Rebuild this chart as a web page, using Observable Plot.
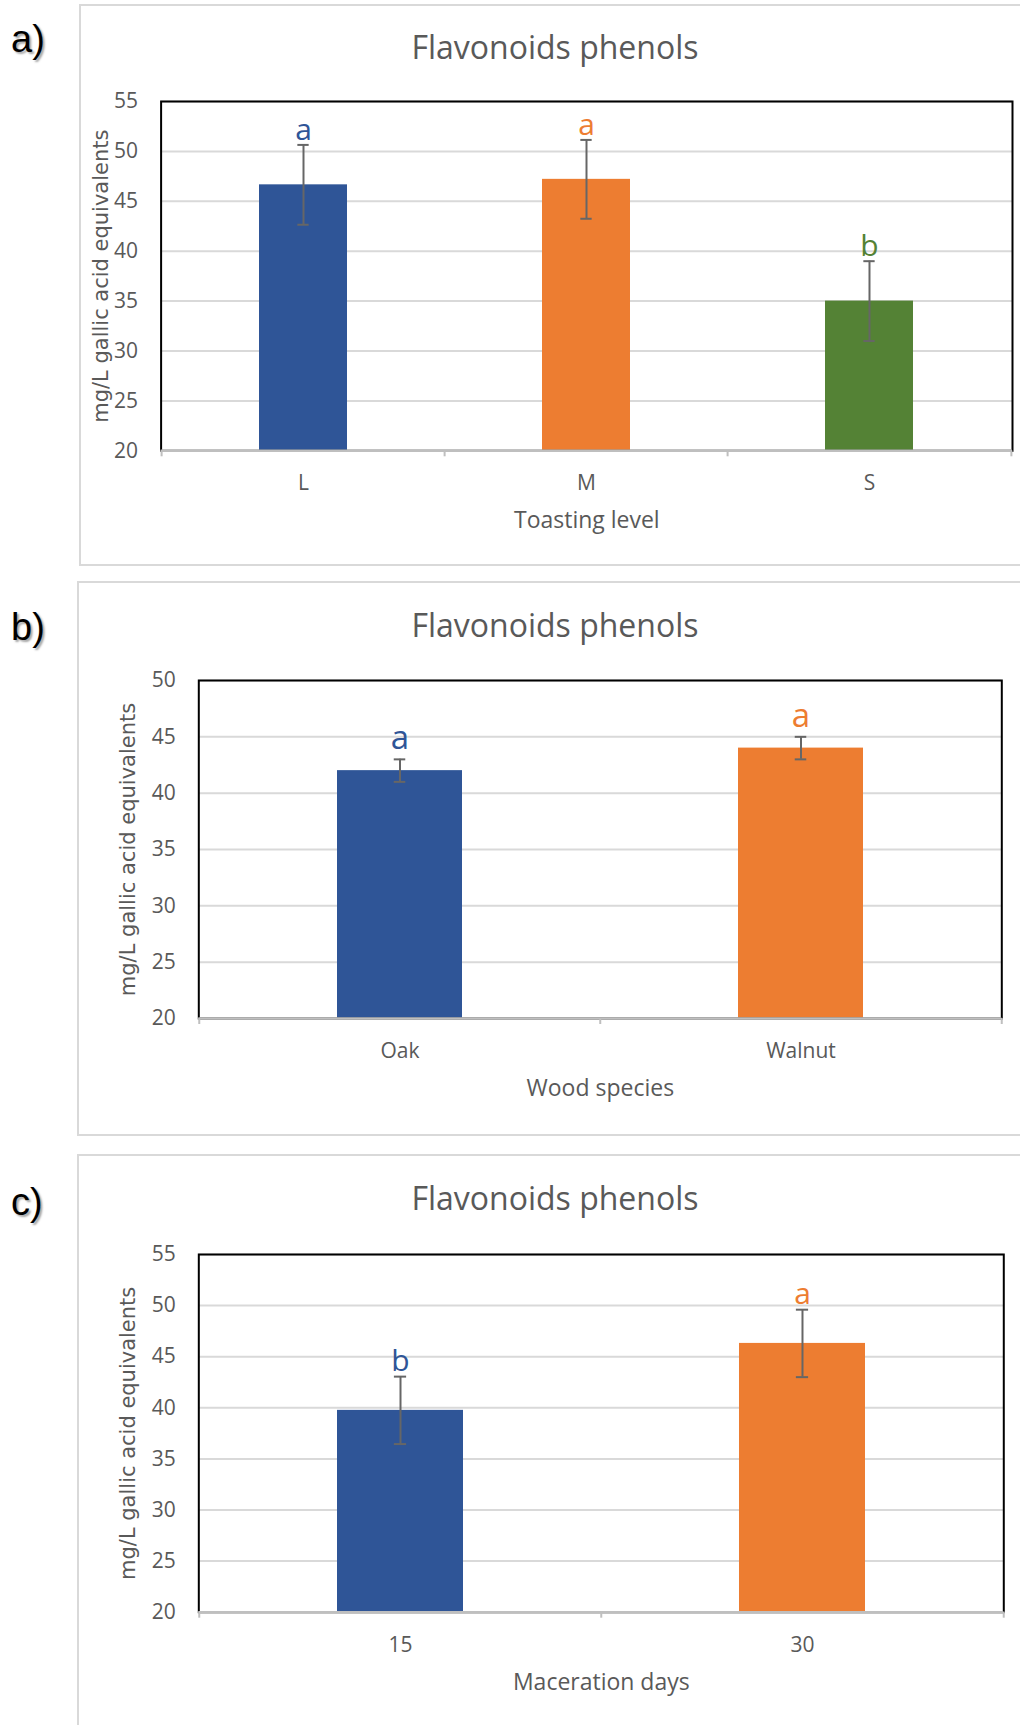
<!DOCTYPE html>
<html>
<head>
<meta charset="utf-8">
<script src="https://cdn.jsdelivr.net/npm/d3@7"></script>
<script src="https://cdn.jsdelivr.net/npm/@observablehq/plot@0.6"></script>
<style>
  html, body { margin: 0; padding: 0; background: #fff; }
  #page { position: relative; width: 1020px; height: 1725px; overflow: hidden; font-family: "Open Sans", sans-serif; }
  .box { position: absolute; border: 2px solid #d9d9d9; box-sizing: border-box; background: #fff; }
  .title { position: absolute; left: 0; width: 1110px; text-align: center; font-family: "Open Sans", sans-serif; font-size: 32px; line-height: 1; color: #595959; white-space: nowrap; }
  .tag { position: absolute; left: 11px; font-family: "Liberation Sans", Arial, sans-serif; font-size: 38px; line-height: 1; color: #000; text-shadow: 2px 2px 2px rgba(0,0,0,0.35); }
  .chart { position: absolute; left: 0; }
</style>
</head>
<body>
<div id="page"></div>
<script>
// ---------------- data ----------------
const chartTitle = "Flavonoids phenols";
const yLabel = "mg/L gallic acid equivalents";
const barColors = ["#2F5597", "#ED7D31", "#548235"];

// a) Toasting level
const toastCats = ["L", "M", "S"];
const toastMeans = [46.65, 47.2, 35.0];
const toastSD = [4.0, 3.95, 4.0];
const toastLetters = ["a", "a", "b"];
const toastTicks = [20, 25, 30, 35, 40, 45, 50, 55];

// b) Wood species
const woodCats = ["Oak", "Walnut"];
const woodMeans = [42.0, 44.0];
const woodSD = [1.0, 1.0];
const woodLetters = ["a", "a"];
const woodTicks = [20, 25, 30, 35, 40, 45, 50];

// c) Maceration days
const dayCats = ["15", "30"];
const dayMeans = [39.75, 46.3];
const daySD = [3.3, 3.3];
const dayLetters = ["b", "a"];
const dayTicks = [20, 25, 30, 35, 40, 45, 50, 55];

// ---------------- layout ----------------
const page = document.getElementById("page");

function addDiv(cls, text, css) {
  const d = document.createElement("div");
  d.className = cls;
  if (text != null) d.textContent = text;
  Object.assign(d.style, css);
  page.appendChild(d);
  return d;
}

function panel(cfg) {
  const {cats, means, sds, letters, ticks, xLabel, tag, box, frame, titleTop, tagTop, yLabelGap, letterSize, letterGap} = cfg;
  addDiv("box", null, {left: box.left + "px", top: box.top + "px", width: box.width + "px", height: box.height + "px"});
  addDiv("title", chartTitle, {top: titleTop + "px"});
  addDiv("tag", tag, {top: tagTop + "px"});

  const data = cats.map((c, i) => ({cat: c, mean: means[i], sd: sds[i], letter: letters[i], color: barColors[i]}));
  const W = 1020, mt = 30, mb = 100;
  const plotW = frame.R - frame.L;
  const step = plotW / cats.length;
  const pIn = 0.6875;
  const bw = step * (1 - pIn);
  const capW = 12;
  const errColor = "#666666";
  const yMax = ticks[ticks.length - 1];

  const svg = Plot.plot({
    width: W,
    height: mt + (frame.B - frame.T) + mb,
    marginLeft: frame.L,
    marginRight: W - frame.R,
    marginTop: mt,
    marginBottom: mb,
    style: {fontFamily: "Open Sans, sans-serif", fontSize: "21px", color: "#595959", background: "transparent", overflow: "visible"},
    x: {domain: cats, paddingInner: pIn, paddingOuter: pIn / 2, axis: null, label: null},
    y: {domain: [20, yMax], axis: null, label: null},
    color: {type: "identity"},
    marks: [
      Plot.gridY(ticks, {stroke: "#d9d9d9", strokeOpacity: 1, strokeWidth: 2}),
      Plot.barY(data, {x: "cat", y1: 20, y2: "mean", fill: "color"}),
      Plot.frame({stroke: "#000", strokeWidth: 2}),
      Plot.ruleY([20], {stroke: "#bfbfbf", strokeWidth: 2.5}),
      Plot.ruleX(cats, {x: d => d, y1: 20, y2: 20, insetBottom: -6, dx: -step / 2, stroke: "#bfbfbf", strokeWidth: 2}),
      Plot.ruleX(cats.slice(-1), {x: d => d, y1: 20, y2: 20, insetBottom: -6, dx: step / 2, stroke: "#bfbfbf", strokeWidth: 2}),
      Plot.ruleX(data, {x: "cat", y1: d => d.mean - d.sd, y2: d => d.mean + d.sd, stroke: errColor, strokeWidth: 2}),
      Plot.tickY(data, {x: "cat", y: d => d.mean + d.sd, stroke: errColor, strokeWidth: 2, inset: (bw - capW) / 2}),
      Plot.tickY(data, {x: "cat", y: d => d.mean - d.sd, stroke: errColor, strokeWidth: 2, inset: (bw - capW) / 2}),
      Plot.text(data, {x: "cat", y: d => d.mean + d.sd, text: "letter", fill: "color", fontSize: letterSize, lineAnchor: "bottom", dy: -letterGap}),
      Plot.axisY({ticks: ticks, tickSize: 0, tickPadding: 23, label: null, fontSize: 21}),
      Plot.axisX({tickSize: 0, tickPadding: 24.5, label: null, fontSize: 21}),
      Plot.text([yLabel], {text: d => d, frameAnchor: "left", textAnchor: "middle", lineAnchor: "middle", dx: -yLabelGap, rotate: -90, fontFamily: "DejaVu Sans, sans-serif", fontSize: 21, fill: "#595959"}),
      Plot.text([xLabel], {text: d => d, frameAnchor: "bottom", textAnchor: "middle", dy: 70, lineAnchor: "middle", fontSize: 23, fill: "#595959"})
    ]
  });
  const wrap = document.createElement("div");
  wrap.className = "chart";
  wrap.style.top = (frame.T - mt) + "px";
  wrap.appendChild(svg);
  page.appendChild(wrap);
}

panel({
  cats: toastCats, means: toastMeans, sds: toastSD, letters: toastLetters, ticks: toastTicks,
  xLabel: "Toasting level", tag: "a)",
  box: {left: 79, top: 4, width: 960, height: 562},
  frame: {L: 160.6, R: 1012, T: 100.7, B: 450},
  titleTop: 31, tagTop: 19.5, yLabelGap: 60, letterSize: 30, letterGap: 5
});

panel({
  cats: woodCats, means: woodMeans, sds: woodSD, letters: woodLetters, ticks: woodTicks,
  xLabel: "Wood species", tag: "b)",
  box: {left: 77, top: 581, width: 962, height: 555},
  frame: {L: 198.3, R: 1001.3, T: 680, B: 1018},
  titleTop: 609, tagTop: 608, yLabelGap: 71, letterSize: 33, letterGap: 10
});

panel({
  cats: dayCats, means: dayMeans, sds: daySD, letters: dayLetters, ticks: dayTicks,
  xLabel: "Maceration days", tag: "c)",
  box: {left: 77, top: 1154, width: 962, height: 600},
  frame: {L: 198.3, R: 1003.3, T: 1254, B: 1611.7},
  titleTop: 1182, tagTop: 1183, yLabelGap: 71, letterSize: 30, letterGap: 6
});
</script>
</body>
</html>
